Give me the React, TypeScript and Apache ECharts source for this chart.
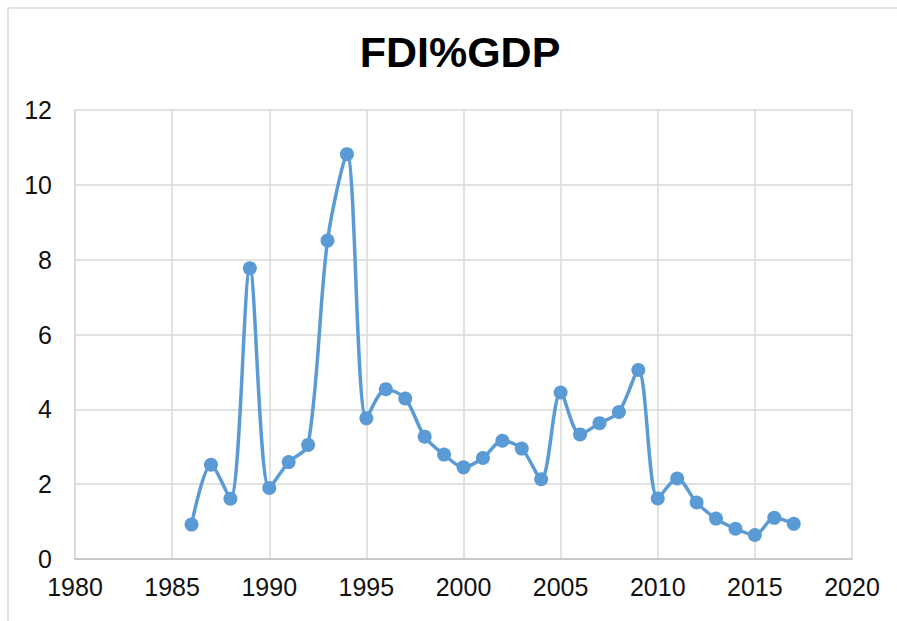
import React, { useEffect, useRef } from "react";
import * as echarts from "echarts";

const years = [1986, 1987, 1988, 1989, 1990, 1991, 1992, 1993, 1994, 1995, 1996, 1997, 1998, 1999, 2000, 2001, 2002, 2003, 2004, 2005, 2006, 2007, 2008, 2009, 2010, 2011, 2012, 2013, 2014, 2015, 2016, 2017];
const fdiValues = [0.92, 2.52, 1.61, 7.77, 1.9, 2.59, 3.05, 8.51, 10.82, 3.76, 4.54, 4.29, 3.27, 2.79, 2.45, 2.7, 3.16, 2.95, 2.13, 4.45, 3.33, 3.63, 3.93, 5.05, 1.62, 2.15, 1.51, 1.08, 0.81, 0.64, 1.1, 0.94];
const titleText = "FDI%GDP";

export default function App() {
  const ref = useRef<HTMLDivElement>(null);
  useEffect(() => {
    document.body.style.margin = "0";
    const chart = echarts.init(ref.current!, null, { renderer: "svg" });
    const font = "Liberation Sans, Arial, sans-serif";
    chart.setOption({
      animation: false,
      backgroundColor: "#ffffff",
      title: {
        text: titleText,
        left: 455,
        top: 25,
        textAlign: "center",
        textStyle: { fontFamily: font, fontSize: 43, fontWeight: "bold", color: "#000" },
      },
      graphic: [
        {
          type: "rect",
          shape: { x: 8, y: 8, width: 1000, height: 800 },
          style: { fill: "none", stroke: "#d9d9d9", lineWidth: 1.5 },
          silent: true,
          z: -1,
        },
      ],
      grid: { left: 75, right: 45, top: 110, bottom: 62, containLabel: false },
      xAxis: {
        type: "value",
        min: 1980,
        max: 2020,
        interval: 5,
        axisLine: { show: true, lineStyle: { color: "#bfbfbf", width: 1.5 } },
        axisTick: { show: false },
        splitLine: { show: true, lineStyle: { color: "#d9d9d9", width: 1.5 } },
        axisLabel: {
          fontFamily: font,
          fontSize: 25,
          color: "#111",
          margin: 15,
          formatter: (v: number) => String(v),
        },
      },
      yAxis: {
        type: "value",
        min: 0,
        max: 12,
        interval: 2,
        axisLine: { show: true, lineStyle: { color: "#d9d9d9", width: 1.5 } },
        axisTick: { show: false },
        splitLine: { show: true, lineStyle: { color: "#d9d9d9", width: 1.5 } },
        axisLabel: { fontFamily: font, fontSize: 25, color: "#111", margin: 23 },
      },
      series: [
        {
          type: "line",
          data: years.map((y, i) => [y, fdiValues[i]]),
          smooth: 0.3,
          symbol: "circle",
          symbolSize: 14,
          lineStyle: { color: "#5b9bd5", width: 3.5 },
          itemStyle: { color: "#5b9bd5" },
        },
      ],
    });
    return () => chart.dispose();
  }, []);
  return <div ref={ref} style={{ width: 897, height: 621 }} />;
}
